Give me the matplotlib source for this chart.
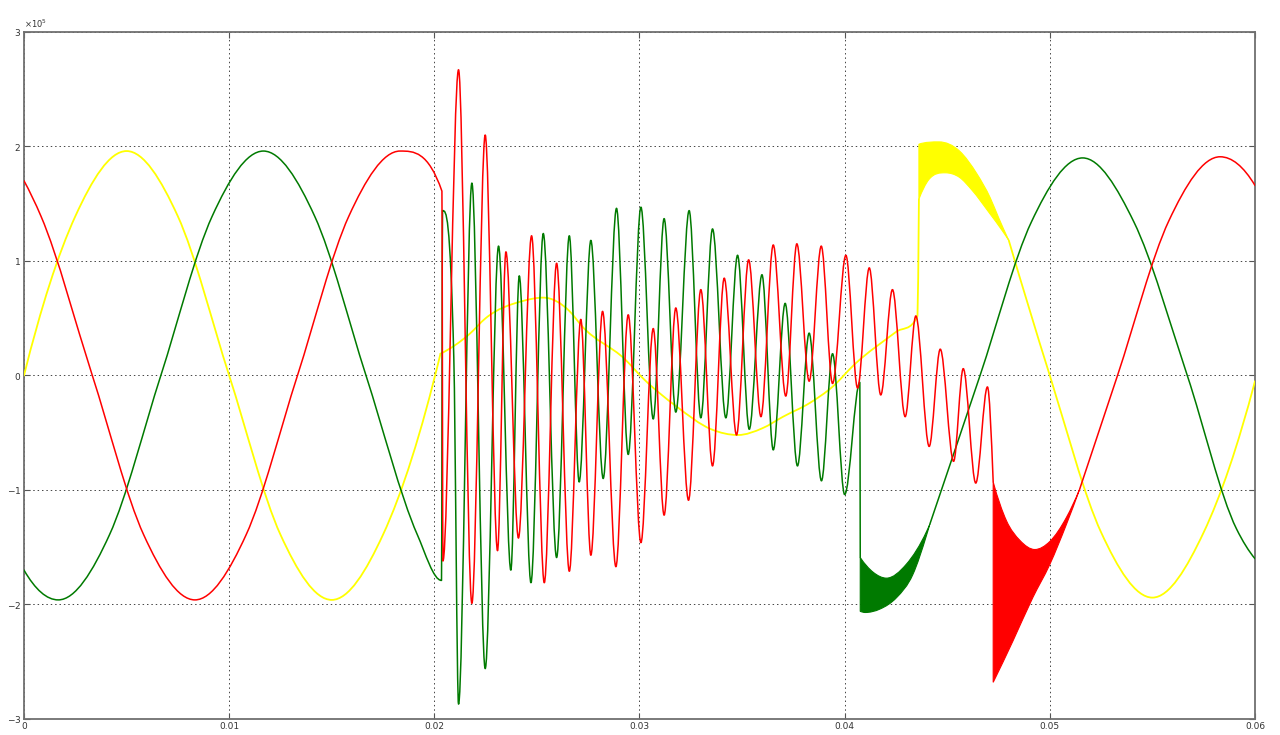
import numpy as np
import matplotlib
matplotlib.use('Agg')
import matplotlib.pyplot as plt
from matplotlib.path import Path
from matplotlib.patches import PathPatch
from matplotlib.ticker import ScalarFormatter

# values: time in ms, voltage in units of 1e5
# knots are the turning points (plus a few points on the 50 Hz parts)

yel_pre_t = [0, 2.5, 5.0, 7.5, 10.0, 12.5, 15.0, 17.5, 20.3]
yel_pre_v = [0, 1.39, 1.96, 1.39, 0, -1.39, -1.96, -1.39, 0.19]
yel_t = [20.3, 21.7, 22.5, 24.3, 25.3, 26.6, 27.2, 29.3, 30.2, 31.8, 33.5, 34.8,
         36.0, 37.0, 38.3, 39.4, 40.5, 42.5, 43.55, 43.62]
yel_v = [0.19, 0.36, 0.50, 0.65, 0.68, 0.56, 0.43, 0.14, -0.03, -0.27, -0.47, -0.52,
         -0.46, -0.36, -0.24, -0.10, 0.10, 0.38, 0.52, 1.54]
yel_band_up_t = [43.62, 44.6, 45.6, 46.45, 47.1, 47.5, 48.0]
yel_band_up_v = [2.02, 2.04, 1.96, 1.76, 1.55, 1.38, 1.18]
yel_band_lo_t = [43.62, 44.1, 44.9, 45.6, 46.2, 47.05, 47.7, 48.0]
yel_band_lo_v = [1.54, 1.71, 1.77, 1.73, 1.62, 1.42, 1.26, 1.18]
yel_post_t = [48.0, 50.0, 52.5, 55.0, 57.5, 60.0]
yel_post_v = [1.18, 0.0, -1.37, -1.94, -1.37, -0.05]

grn_t = [0, 1.67, 4.17, 6.67, 9.17, 11.67, 14.17, 16.67, 19.17, 20.35, 20.40, 20.95,
         21.18, 21.83, 22.48, 23.13, 23.73, 24.14, 24.71, 25.31, 25.96, 26.58, 27.06,
         27.63, 28.23, 28.88, 29.45, 30.07, 30.67, 31.2, 31.77, 32.42, 32.99, 33.56,
         34.21, 34.78, 35.35, 35.97, 36.52, 37.1, 37.7, 38.27, 38.87, 39.41, 40.0,
         40.74, 40.76]
grn_v = [-1.70, -1.96, -1.39, 0, 1.39, 1.96, 1.39, 0, -1.39, -1.79, 1.44, 0.15,
         -2.87, 1.68, -2.56, 1.13, -1.70, 0.87, -1.81, 1.24, -1.59, 1.22, -0.93,
         1.18, -0.90, 1.46, -0.69, 1.47, -0.38, 1.37, -0.32, 1.44, -0.37, 1.28,
         -0.37, 1.05, -0.47, 0.88, -0.65, 0.63, -0.79, 0.37, -0.92, 0.19, -1.04,
         -0.06, -1.59]
grn_band_up_t = [40.76, 41.4, 42.04, 43.0, 44.0, 44.15]
grn_band_up_v = [-1.59, -1.72, -1.77, -1.65, -1.36, -1.30]
grn_band_lo_t = [40.76, 41.0, 41.72, 42.53, 43.32, 44.0, 44.15]
grn_band_lo_v = [-2.06, -2.07, -2.04, -1.94, -1.74, -1.39, -1.30]
grn_post_t = [44.15, 46.6, 49.1, 51.6, 54.1, 56.7, 59.1, 60.0]
grn_post_v = [-1.30, 0.0, 1.34, 1.90, 1.34, 0.0, -1.34, -1.60]

red_t = [0, 0.83, 3.33, 5.83, 8.33, 10.83, 13.33, 15.83, 18.33, 20.37, 20.42, 21.18,
         21.83, 22.48, 23.08, 23.49, 24.10, 24.74, 25.36, 25.96, 26.58, 27.14, 27.63,
         28.2, 28.85, 29.45, 30.07, 30.67, 31.2, 31.77, 32.39, 32.99, 33.56, 34.13,
         34.73, 35.32, 35.92, 36.52, 37.13, 37.67, 38.27, 38.86, 39.41, 40.06, 40.63,
         41.2, 41.76, 42.33, 42.95, 43.47, 44.12, 44.66, 45.31, 45.78, 46.39, 46.96,
         47.24]
red_v = [1.70, 1.39, 0, -1.39, -1.96, -1.39, 0, 1.39, 1.96, 1.61, -1.62, 2.67,
         -1.99, 2.10, -1.53, 1.08, -1.42, 1.22, -1.81, 0.98, -1.71, 0.49, -1.57,
         0.56, -1.67, 0.53, -1.46, 0.41, -1.22, 0.59, -1.09, 0.75, -0.79, 0.85,
         -0.52, 1.01, -0.36, 1.14, -0.18, 1.15, -0.05, 1.13, -0.07, 1.05, -0.11,
         0.94, -0.17, 0.75, -0.36, 0.52, -0.62, 0.23, -0.75, 0.06, -0.94, -0.10,
         -0.93]
red_band_up_t = [47.24, 47.89, 48.54, 49.27, 50.0, 50.81, 51.46]
red_band_up_v = [-0.93, -1.27, -1.44, -1.52, -1.45, -1.24, -0.99]
red_band_lo_t = [47.24, 48.2, 49.17, 50.0, 50.81, 51.46]
red_band_lo_v = [-2.68, -2.32, -1.94, -1.65, -1.30, -0.99]
red_post_t = [51.46, 53.3, 55.8, 58.3, 60.0]
red_post_v = [-0.99, 0.0, 1.35, 1.91, 1.66]

xticks = [0, 0.01, 0.02, 0.03, 0.04, 0.05, 0.06]
xtick_labels = ['0', '0.01', '0.02', '0.03', '0.04', '0.05', '0.06']
yticks = [-3e5, -2e5, -1e5, 0, 1e5, 2e5, 3e5]

YELLOW = '#ffff00'
GREEN = '#007a00'
RED = '#ff0000'


def slopes(x, y):
    # three point tangents, flat at turning points, limited so nothing overshoots
    h = np.diff(x)
    d = np.diff(y) / h
    n = len(x)
    m = np.zeros(n)
    for k in range(1, n - 1):
        if d[k - 1] * d[k] > 0:
            s = (d[k - 1] * h[k] + d[k] * h[k - 1]) / (h[k - 1] + h[k])
            lim = 3 * min(abs(d[k - 1]), abs(d[k]))
            if abs(s) > lim:
                s = np.sign(s) * lim
            m[k] = s

    def end(h0, h1, d0, d1):
        s = ((2 * h0 + h1) * d0 - h0 * d1) / (h0 + h1)
        if np.sign(s) != np.sign(d0):
            s = 0.0
        elif np.sign(d0) != np.sign(d1) and abs(s) > abs(3 * d0):
            s = 3 * d0
        return s

    if n > 2:
        m[0] = end(h[0], h[1], d[0], d[1])
        m[-1] = end(h[-1], h[-2], d[-1], d[-2])
    else:
        m[:] = d[0]
    return m


def bezier(t, v):
    x = np.asarray(t, float) / 1000.0
    y = np.asarray(v, float) * 1e5
    m = slopes(x, y)
    verts = [(x[0], y[0])]
    for k in range(len(x) - 1):
        h = x[k + 1] - x[k]
        verts += [(x[k] + h / 3, y[k] + m[k] * h / 3),
                  (x[k + 1] - h / 3, y[k + 1] - m[k + 1] * h / 3),
                  (x[k + 1], y[k + 1])]
    return verts


def curve(ax, t, v, color, lw=1.1):
    verts = bezier(t, v)
    codes = [Path.MOVETO] + [Path.CURVE4] * (len(verts) - 1)
    ax.add_patch(PathPatch(Path(verts, codes), fill=False, edgecolor=color,
                           lw=lw, joinstyle='round', capstyle='round', zorder=3))


def band(ax, tu, vu, tl, vl, color):
    up = bezier(tu, vu)
    lo = bezier(tl, vl)[::-1]
    verts = up + lo + [up[0]]
    codes = ([Path.MOVETO] + [Path.CURVE4] * (len(up) - 1) + [Path.LINETO]
             + [Path.CURVE4] * (len(lo) - 1) + [Path.CLOSEPOLY])
    ax.add_patch(PathPatch(Path(verts, codes), facecolor=color, edgecolor=color,
                           lw=0.8, zorder=3))


fig = plt.figure(figsize=(12.8, 7.35), dpi=100)
ax = fig.add_axes([0.01875, 0.0218, 0.9617, 0.9347])

curve(ax, yel_pre_t, yel_pre_v, YELLOW, lw=1.3)
curve(ax, yel_t, yel_v, YELLOW, lw=1.3)
band(ax, yel_band_up_t, yel_band_up_v, yel_band_lo_t, yel_band_lo_v, YELLOW)
curve(ax, yel_post_t, yel_post_v, YELLOW, lw=1.3)

curve(ax, grn_t, grn_v, GREEN)
band(ax, grn_band_up_t, grn_band_up_v, grn_band_lo_t, grn_band_lo_v, GREEN)
curve(ax, grn_post_t, grn_post_v, GREEN)

curve(ax, red_t, red_v, RED)
band(ax, red_band_up_t, red_band_up_v, red_band_lo_t, red_band_lo_v, RED)
curve(ax, red_post_t, red_post_v, RED)

ax.set_xlim(0, 0.06)
ax.set_ylim(-3e5, 3e5)
ax.set_xticks(xticks)
ax.set_xticklabels(xtick_labels)
ax.set_yticks(yticks)
fmt = ScalarFormatter(useMathText=True)
fmt.set_powerlimits((0, 0))
ax.yaxis.set_major_formatter(fmt)
ax.yaxis.get_offset_text().set_fontsize(6)
ax.yaxis.get_offset_text().set_color('#444444')

ax.grid(True, color='#444444', linestyle=(0, (1.5, 3)), linewidth=0.7)
ax.set_axisbelow(True)
ax.tick_params(direction='in', length=4, width=0.8, labelsize=6.5,
               colors='#555555', labelcolor='#333333', pad=2,
               top=True, right=True)
for s in ax.spines.values():
    s.set_color('#707070')
    s.set_linewidth(1.3)

fig.savefig('out.png', dpi=100)
